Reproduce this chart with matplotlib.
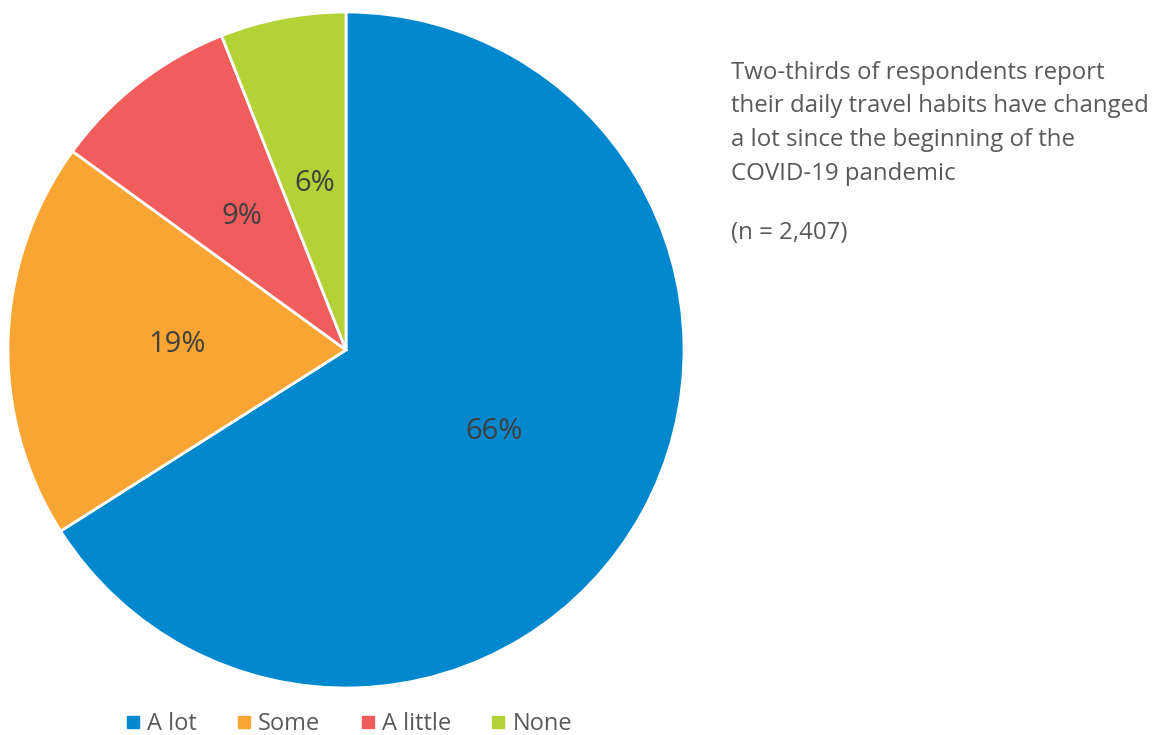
import matplotlib
matplotlib.use("Agg")
import matplotlib.pyplot as plt
from matplotlib.lines import Line2D

categories = ["A lot", "Some", "A little", "None"]
shares = [66, 19, 9, 6]
colors = ["#0088CE", "#F8A533", "#F15D5D", "#B2D235"]

note_lines = ["Two-thirds of respondents report",
              "their daily travel habits have changed",
              "a lot since the beginning of the",
              "COVID-19 pandemic"]
sample_note = "(n = 2,407)"

plt.rcParams["font.family"] = ["Open Sans", "DejaVu Sans"]

W, H = 1168, 735
fig = plt.figure(figsize=(W / 100, H / 100), dpi=100)

cx, cy, r = 346, 350, 338
ax = fig.add_axes([(cx - r) / W, (H - cy - r) / H, 2 * r / W, 2 * r / H])
wedges, texts, autotexts = ax.pie(
    shares, colors=colors, startangle=90, counterclock=False,
    autopct=lambda p: f"{p:.0f}%", pctdistance=0.5,
    wedgeprops=dict(edgecolor="white", linewidth=2),
    textprops=dict(color="#404040", fontsize=21),
)
ax.set_xlim(-1.0, 1.0)
ax.set_ylim(-1.0, 1.0)
ax.set_aspect("equal")
for w in wedges:
    w.set_clip_on(False)

note_color = "#595959"
for i, line in enumerate(note_lines):
    fig.text(731 / W, 1 - (79 + 33.5 * i) / H, line, ha="left", va="baseline",
             fontsize=17.3, color=note_color)
fig.text(731 / W, 1 - 239 / H, sample_note, ha="left", va="baseline",
         fontsize=17.3, color=note_color)

handles = [Line2D([], [], marker="s", linestyle="", markersize=9,
                  markerfacecolor=c, markeredgecolor=c) for c in colors]
fig.legend(handles, categories, loc="center", bbox_to_anchor=(349 / W, 1 - 724 / H),
           ncol=4, frameon=False, fontsize=17, handlelength=0.6, borderpad=0.0,
           handletextpad=0.3, columnspacing=1.7, labelcolor=note_color)

fig.savefig("out.png", dpi=100, facecolor="white")
